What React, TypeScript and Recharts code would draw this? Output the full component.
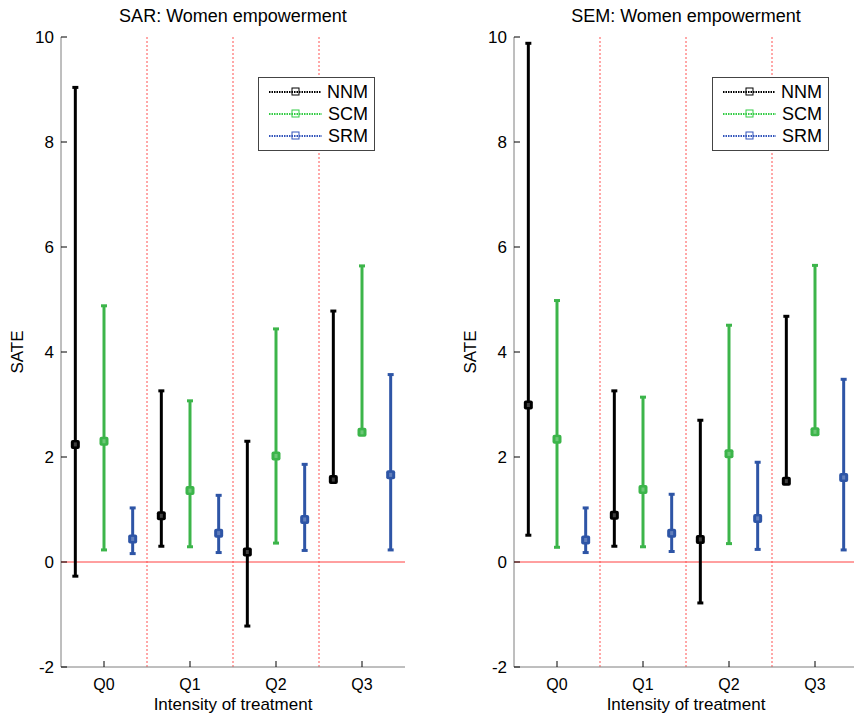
import React from 'react';
import { ComposedChart, Scatter, ErrorBar, XAxis, YAxis, ReferenceLine, Legend } from 'recharts';

// ---- categories / ticks ----
const quarters = ['Q0', 'Q1', 'Q2', 'Q3'];
const quarterIdx = [0, 1, 2, 3];
const yTicks = [-2, 0, 2, 4, 6, 8, 10];
const dividers = [0.5, 1.5, 2.5];
const seriesNames = ['NNM', 'SCM', 'SRM'];
const seriesColors = ['#000000', '#3cb54a', '#2e55a6'];
const legendColors = ['#000000', '#33cc44', '#3355bb'];
const seriesOffsets = [-1 / 3, 0, 1 / 3];

// ---- SAR: Women empowerment ----
const sarNNM = [2.24, 0.88, 0.19, 1.57];
const sarNNMLow = [-0.27, 0.3, -1.22, 1.55];
const sarNNMHigh = [9.04, 3.26, 2.3, 4.78];
const sarSCM = [2.3, 1.36, 2.02, 2.47];
const sarSCMLow = [0.23, 0.29, 0.36, 2.45];
const sarSCMHigh = [4.88, 3.07, 4.44, 5.64];
const sarSRM = [0.44, 0.55, 0.81, 1.66];
const sarSRMLow = [0.16, 0.18, 0.22, 0.23];
const sarSRMHigh = [1.03, 1.27, 1.86, 3.57];

// ---- SEM: Women empowerment ----
const semNNM = [2.99, 0.89, 0.43, 1.54];
const semNNMLow = [0.51, 0.3, -0.78, 1.52];
const semNNMHigh = [9.88, 3.26, 2.7, 4.68];
const semSCM = [2.34, 1.38, 2.06, 2.48];
const semSCMLow = [0.28, 0.29, 0.35, 2.46];
const semSCMHigh = [4.98, 3.14, 4.51, 5.65];
const semSRM = [0.42, 0.55, 0.83, 1.61];
const semSRMLow = [0.18, 0.2, 0.24, 0.23];
const semSRMHigh = [1.03, 1.29, 1.9, 3.48];

const FONT = '"Liberation Sans", Arial, Helvetica, sans-serif';
const AXIS_GRAY = '#7f7f7f';

type Series = { v: number[]; lo: number[]; hi: number[] };

function buildRows(s: Series, k: number) {
  return quarterIdx.map((i) => ({
    x: i + seriesOffsets[k],
    y: s.v[i],
    err: [s.v[i] - s.lo[i], s.hi[i] - s.v[i]],
  }));
}

const SquareMarker = (props: any) => {
  const { cx, cy, fill } = props;
  if (cx == null || cy == null) return null;
  return (
    <g>
      <rect x={cx - 4.5} y={cy - 4.5} width={9} height={9} rx={2} fill={fill} />
      <rect x={cx - 1.5} y={cy - 2} width={3} height={4} fill="#ffffff" opacity={0.25} />
    </g>
  );
};

const BottomTick = (props: any) => {
  const { x, y, payload } = props;
  return (
    <g>
      <line x1={x} y1={y} x2={x} y2={y - 6} stroke="#000" strokeWidth={1} />
      <text x={x} y={y + 23} textAnchor="middle" fontSize={16} fontFamily={FONT} fill="#000">
        {quarters[payload.value]}
      </text>
    </g>
  );
};

const TopTick = (props: any) => {
  const { x, y } = props;
  return <line x1={x} y1={y} x2={x} y2={y + 6} stroke="#000" strokeWidth={1} />;
};

const LeftTick = (props: any) => {
  const { x, y, payload } = props;
  return (
    <g>
      <line x1={x} y1={y} x2={x + 6} y2={y} stroke="#000" strokeWidth={1} />
      <text x={x - 7} y={y} dy="0.36em" textAnchor="end" fontSize={17} fontFamily={FONT} fill="#000">
        {payload.value}
      </text>
    </g>
  );
};

const RightTick = (props: any) => {
  const { x, y } = props;
  return <line x1={x} y1={y} x2={x - 6} y2={y} stroke="#000" strokeWidth={1} />;
};

const LegendBox = () => (
  <div
    style={{
      border: '1px solid #444',
      background: '#fff',
      padding: '3px 6px 3px 10px',
      fontFamily: FONT,
      fontSize: 18,
      lineHeight: '22px',
      width: 99,
    }}
  >
    {seriesNames.map((n, k) => (
      <div key={n} style={{ display: 'flex', alignItems: 'center' }}>
        <svg width={54} height={12} style={{ marginRight: 6 }}>
          <line x1={0} y1={6} x2={54} y2={6} stroke={legendColors[k]} strokeWidth={2} strokeDasharray="1.5 1" />
          <rect x={23} y={2} width={7} height={7} fill="none" stroke={legendColors[k]} strokeWidth={1} />
        </svg>
        <span>{n}</span>
      </div>
    ))}
  </div>
);

type PanelProps = {
  series: Series[];
  marginLeft: number;
  marginRight: number;
  legendLeft: number;
};

const Panel = ({ series, marginLeft, marginRight, legendLeft }: PanelProps) => (
  <ComposedChart
    width={430}
    height={720}
    margin={{ top: 37, right: marginRight, bottom: 0, left: marginLeft }}
  >
    <XAxis
      xAxisId="b"
      dataKey="x"
      type="number"
      domain={[-0.5, 3.5]}
      ticks={quarterIdx}
      orientation="bottom"
      height={53}
      tickSize={0}
      tickMargin={0}
      tickLine={false}
      tick={<BottomTick />}
      axisLine={{ stroke: AXIS_GRAY }}
      allowDataOverflow
    />
    <XAxis
      xAxisId="t"
      dataKey="x"
      type="number"
      domain={[-0.5, 3.5]}
      ticks={quarterIdx}
      orientation="top"
      height={0}
      tickSize={0}
      tickMargin={0}
      tickLine={false}
      tick={<TopTick />}
      axisLine={{ stroke: AXIS_GRAY }}
      allowDataOverflow
    />
    <YAxis
      yAxisId="l"
      type="number"
      domain={[-2, 10]}
      ticks={yTicks}
      orientation="left"
      width={50}
      tickSize={0}
      tickMargin={0}
      tickLine={false}
      tick={<LeftTick />}
      axisLine={{ stroke: AXIS_GRAY }}
      allowDataOverflow
    />
    <YAxis
      yAxisId="r"
      type="number"
      domain={[-2, 10]}
      ticks={yTicks}
      orientation="right"
      width={0}
      tickSize={0}
      tickMargin={0}
      tickLine={false}
      tick={<RightTick />}
      axisLine={{ stroke: AXIS_GRAY }}
      allowDataOverflow
    />
    <ReferenceLine xAxisId="b" yAxisId="l" y={0} stroke="#ff4040" strokeWidth={1} />
    {dividers.map((d) => (
      <ReferenceLine key={d} xAxisId="b" yAxisId="l" x={d} stroke="#ff5050" strokeWidth={1} strokeDasharray="2 2" />
    ))}
    {series.map((s, k) => (
      <Scatter
        key={seriesNames[k]}
        name={seriesNames[k]}
        xAxisId="b"
        yAxisId="l"
        data={buildRows(s, k)}
        dataKey="y"
        fill={seriesColors[k]}
        shape={<SquareMarker />}
        isAnimationActive={false}
      >
        <ErrorBar
          dataKey="err"
          direction="y"
          width={3}
          strokeWidth={3}
          stroke={seriesColors[k]}
          isAnimationActive={false}
        />
      </Scatter>
    ))}
    <Legend
      layout="vertical"
      verticalAlign="middle"
      align="center"
      content={<LegendBox />}
      wrapperStyle={{ position: 'absolute', left: legendLeft, top: 77, width: 'auto' }}
    />
  </ComposedChart>
);

const textStyle: React.CSSProperties = {
  position: 'absolute',
  fontFamily: FONT,
  fontSize: 18,
  lineHeight: '20px',
  color: '#000',
  whiteSpace: 'nowrap',
  transform: 'translateX(-50%)',
};

export default function App() {
  const sar: Series[] = [
    { v: sarNNM, lo: sarNNMLow, hi: sarNNMHigh },
    { v: sarSCM, lo: sarSCMLow, hi: sarSCMHigh },
    { v: sarSRM, lo: sarSRMLow, hi: sarSRMHigh },
  ];
  const sem: Series[] = [
    { v: semNNM, lo: semNNMLow, hi: semNNMHigh },
    { v: semSCM, lo: semSCMLow, hi: semSCMHigh },
    { v: semSRM, lo: semSRMLow, hi: semSRMHigh },
  ];
  return (
    <div
      style={{
        position: 'absolute',
        left: 0,
        top: 0,
        width: 854,
        height: 720,
        overflow: 'hidden',
        background: '#fff',
      }}
    >
      <div style={{ position: 'absolute', left: 0, top: 0 }}>
        <Panel series={sar} marginLeft={11} marginRight={25} legendLeft={258} />
      </div>
      <div style={{ position: 'absolute', left: 430, top: 0 }}>
        <Panel series={sem} marginLeft={34} marginRight={2} legendLeft={282} />
      </div>
      <div style={{ ...textStyle, left: 233, top: 6 }}>SAR: Women empowerment</div>
      <div style={{ ...textStyle, left: 686, top: 6 }}>SEM: Women empowerment</div>
      <div style={{ ...textStyle, left: 233, top: 695, fontSize: 17 }}>Intensity of treatment</div>
      <div style={{ ...textStyle, left: 686, top: 695, fontSize: 17 }}>Intensity of treatment</div>
      <div
        style={{
          ...textStyle,
          fontSize: 17,
          left: 18,
          top: 352,
          transform: 'translate(-50%, -50%) rotate(-90deg)',
        }}
      >
        SATE
      </div>
      <div
        style={{
          ...textStyle,
          fontSize: 17,
          left: 471,
          top: 352,
          transform: 'translate(-50%, -50%) rotate(-90deg)',
        }}
      >
        SATE
      </div>
    </div>
  );
}
